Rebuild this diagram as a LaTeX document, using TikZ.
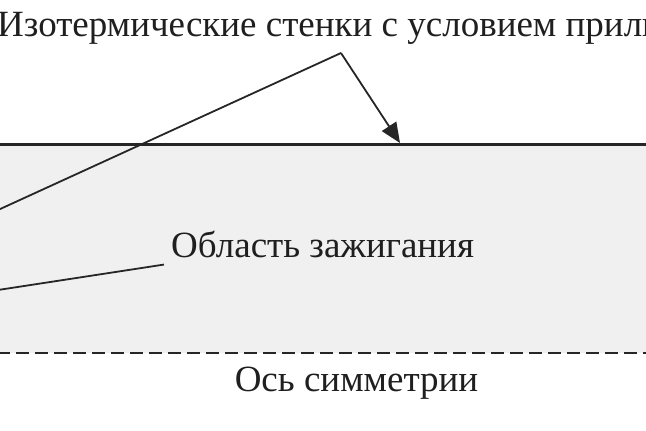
\documentclass[tikz,border=0pt]{standalone}
\usepackage{fontspec}
\setmainfont{Liberation Serif}
\usetikzlibrary{arrows.meta}

\begin{document}
\begin{tikzpicture}[x=1pt,y=-1pt]
\tikzstyle{every node}+=[inner sep=0pt]
\tikzstyle{lbl}=[font=\fontsize{37}{44}\selectfont, text=black!88]
\useasboundingbox (0,0) rectangle (646,431);
\fill [black!6] (0,144) rectangle (646,353);
\draw [black!85, line width=3pt] (0,144) -- (646,144);
\draw [black!85, line width=2.8pt, dash pattern=on 12.5pt off 6.5pt] (-3,353) -- (646,353);
\node [lbl, anchor=base west] (walls) at (-3,36) {Изотермические стенки с условием прилипания};
\node [lbl, anchor=base west, inner sep=7pt] (zone) at (164,257) {Область зажигания};
\node [lbl, anchor=base] (axis) at (356.5,391) {Ось симметрии};
\coordinate (apex) at (341,53);
\coordinate (wtop) at (400,143);
\coordinate (wleft) at (-2,210);
\coordinate (zleft) at (-2,290);
\draw [black!85, line width=1.8pt, -{Triangle[length=20pt,width=17pt]}] (apex) -- (wtop);
\draw [black!85, line width=1.8pt] (apex) -- (wleft);
\draw [black!85, line width=1.8pt] (zone.south west) -- (zleft);
\end{tikzpicture}
\end{document}
